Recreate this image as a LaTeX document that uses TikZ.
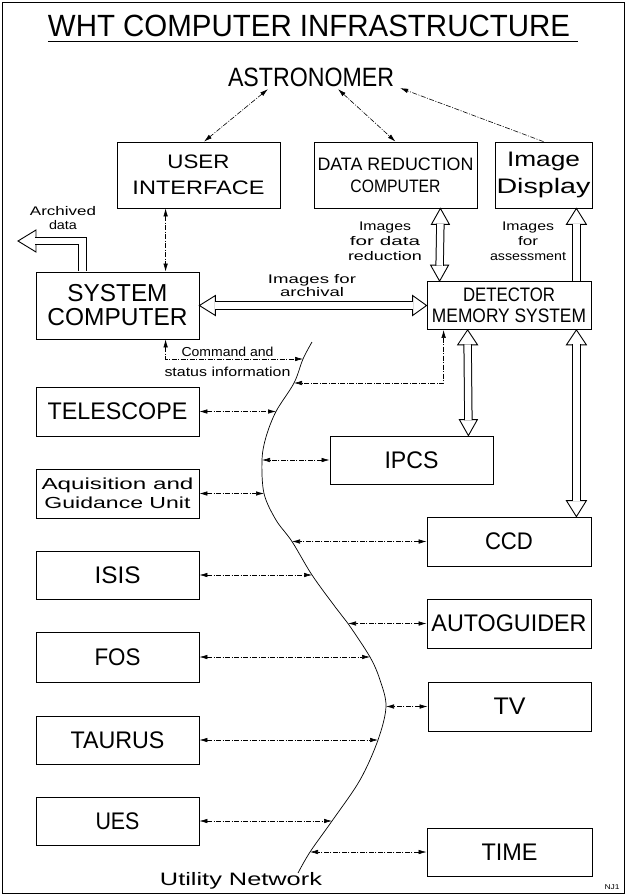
\documentclass[tikz,border=0pt]{standalone}
\usepackage{fontspec}
\setmainfont{Liberation Sans}
\usepackage{graphicx}
\usetikzlibrary{arrows.meta,calc}
\newcommand\fitw[2]{\resizebox{#1}{\height}{#2}}
\newcommand\fs[2]{\fontsize{#1}{#2}\selectfont}
\newcommand\headU[3]{\draw[hhead] (#1) -- ++(-#3,#2) -- ++(2*#3,0) -- cycle;}
\newcommand\headD[3]{\draw[hhead] (#1) -- ++(-#3,-#2) -- ++(2*#3,0) -- cycle;}
\newcommand\headL[3]{\draw[hhead] (#1) -- ++(#2,-#3) -- ++(0,2*#3) -- cycle;}
\newcommand\headR[3]{\draw[hhead] (#1) -- ++(-#2,-#3) -- ++(0,2*#3) -- cycle;}
\newcommand\hshaft[1]{\draw[shaftout] #1; \draw[shaftin] #1;}
\begin{document}
\begin{tikzpicture}[x=1pt,y=-1pt,
  box/.style={draw, line width=0.8pt, inner sep=0pt, align=center},
  lbl/.style={inner sep=0pt, align=center},
  conn/.style={line width=0.6pt, dash pattern=on 5pt off 1.5pt on 1pt off 1.5pt,
     {Latex[length=8pt,width=4.5pt]}-{Latex[length=8pt,width=4.5pt]}},
  connR/.style={line width=0.6pt, dash pattern=on 5pt off 1.5pt on 1pt off 1.5pt,
     -{Latex[length=8pt,width=4.5pt]}},
  shaftout/.style={line width=8.4pt, line join=miter, line cap=butt},
  shaftin/.style={white, line width=6.4pt, line join=miter, line cap=butt},
  hhead/.style={draw, fill=white, line width=0.9pt, line join=miter},
  net/.style={line width=0.7pt}]
\useasboundingbox (0,0) rectangle (627,895);
\draw[line width=0.8pt] (2,2) rectangle (624,893);

% title
\node[lbl, font=\fs{30.7}{36}] (title) at (309,26) {\fitw{522pt}{WHT COMPUTER INFRASTRUCTURE}};
\draw[line width=0.8pt] ([yshift=-4pt]title.south west) -- ([xshift=8pt,yshift=-4pt]title.south east);

\node[lbl, font=\fs{26.5}{32}] (AST) at (311,77.5) {\fitw{166pt}{ASTRONOMER}};

% boxes
\node[box, minimum width=163pt, minimum height=66pt, font=\fs{19.5}{26.5}] (UI) at (198.5,175)
  {\fitw{62pt}{USER}\\\fitw{132pt}{INTERFACE}};
\node[box, minimum width=163pt, minimum height=66pt, font=\fs{18}{22}] (DRC) at (395.5,175)
  {\fitw{156pt}{DATA REDUCTION}\\\fitw{90pt}{COMPUTER}};
\node[box, minimum width=97pt, minimum height=66pt, font=\fs{21}{27}] (ID) at (543.5,175)
  {\fitw{73pt}{Image}\\\fitw{94pt}{Display}};
\node[box, minimum width=163pt, minimum height=67pt, font=\fs{24.5}{24}] (SC) at (117.5,305.5)
  {\fitw{100pt}{SYSTEM}\\\fitw{140pt}{COMPUTER}};
\node[box, minimum width=164pt, minimum height=48pt, font=\fs{19.5}{21}] (DMS) at (509,305.5)
  {\fitw{92pt}{DETECTOR}\\\fitw{154pt}{MEMORY SYSTEM}};

\node[box, minimum width=163pt, minimum height=49pt, font=\fs{24}{28}] (TEL) at (117.5,411.5) {\fitw{140pt}{TELESCOPE}};
\node[box, minimum width=163pt, minimum height=49pt, font=\fs{16}{19}] (AGU) at (117.5,493.5)
  {\fitw{152pt}{Aquisition and}\\\fitw{146pt}{Guidance Unit}};
\node[box, minimum width=163pt, minimum height=48pt, font=\fs{24}{28}] (ISIS) at (117.5,575) {\fitw{46pt}{ISIS}};
\node[box, minimum width=163pt, minimum height=50pt, font=\fs{24}{28}] (FOS) at (117.5,657) {\fitw{46pt}{FOS}};
\node[box, minimum width=163pt, minimum height=48pt, font=\fs{24}{28}] (TAU) at (117.5,740) {\fitw{94pt}{TAURUS}};
\node[box, minimum width=163pt, minimum height=48pt, font=\fs{24}{28}] (UES) at (117.5,821) {\fitw{44pt}{UES}};

\node[box, minimum width=163pt, minimum height=48pt, font=\fs{24}{28}] (IPCS) at (411.5,460) {\fitw{54pt}{IPCS}};
\node[box, minimum width=164pt, minimum height=49pt, font=\fs{24}{28}] (CCD) at (509,541.5) {\fitw{48pt}{CCD}};
\node[box, minimum width=164pt, minimum height=49pt, font=\fs{24}{28}] (AUTO) at (509,623.5) {\fitw{155pt}{AUTOGUIDER}};
\node[box, minimum width=163pt, minimum height=49pt, font=\fs{24}{28}] (TV) at (509.5,706.5) {\fitw{32pt}{TV}};
\node[box, minimum width=165pt, minimum height=48pt, font=\fs{24}{28}] (TIME) at (509.5,852) {\fitw{56pt}{TIME}};

% labels
\node[lbl, font=\fs{12.5}{14}] (archl) at (63,218.5) {\fitw{66pt}{Archived}\\\fitw{28pt}{data}};
\node[lbl, font=\fs{12.5}{15}] (redl) at (385,241) {\fitw{52pt}{Images}\\\fitw{70pt}{for data}\\\fitw{74pt}{reduction}};
\node[lbl, font=\fs{12.5}{15}] (assl) at (528,241) {\fitw{52pt}{Images}\\\fitw{20pt}{for}\\\fitw{76pt}{assessment}};
\node[lbl, font=\fs{12.5}{13}] (arcl) at (312,286) {\fitw{88pt}{Images for}\\\fitw{64pt}{archival}};
\node[lbl, font=\fs{13}{20}] (cmdl) at (227.5,362) {\fitw{92pt}{Command and}\\\fitw{126pt}{status information}};
\node[lbl, font=\fs{18}{20}, anchor=base] (utl) at (241,885) {\fitw{162pt}{Utility Network}};
\node[lbl, font=\fs{7}{8}, anchor=base] (tag) at (612,889) {\fitw{15pt}{NJ1}};

% utility network curve
\coordinate (n0) at (312,342);
\coordinate (ncmd) at (303,359);
\coordinate (ndms) at (294,383);
\coordinate (ntel) at (276,411.5);
\coordinate (nA) at (266,437);
\coordinate (nipcs) at (262,460);
\coordinate (nagu) at (264,493.5);
\coordinate (nB) at (276,520);
\coordinate (nccd) at (292,541.5);
\coordinate (nisis) at (312,575);
\coordinate (nC) at (336,608);
\coordinate (nauto) at (348,623.5);
\coordinate (nfos) at (370,657);
\coordinate (nD) at (380,680);
\coordinate (ntv) at (386,706.5);
\coordinate (ntau) at (378,740);
\coordinate (nE) at (360,780);
\coordinate (nues) at (332,821);
\coordinate (ntime) at (310,852);
\coordinate (nend) at (298,873);
\draw[net] plot[smooth, tension=0.55] coordinates {(n0) (ncmd) (ndms) (ntel) (nA) (nipcs) (nagu) (nB) (nccd) (nisis) (nC) (nauto) (nfos) (nD) (ntv) (ntau) (nE) (nues) (ntime) (nend)};

% thin connectors
\draw[conn] ($(AST.south)+(-43,2)$) -- ($(UI.north)+(5.5,0)$);
\draw[conn] ($(AST.south)+(27,2)$) -- (DRC.north);
\draw[connR] (ID.north) -- ($(AST.south east)+(6,1)$);
\draw[conn] ($(UI.south west)+(49,0)$) -- ($(SC.north west)+(130,0)$);
\draw[conn] ($(SC.south west)+(130,0)$) |- (ncmd);
\draw[conn] ($(DMS.south west)+(17,0)$) |- (ndms);
\draw[conn] (TEL.east) -- (ntel);
\draw[conn] (IPCS.west) -- (nipcs);
\draw[conn] (AGU.east) -- (nagu);
\draw[conn] (CCD.west) -- (nccd);
\draw[conn] (ISIS.east) -- (nisis);
\draw[conn] (AUTO.west) -- (nauto);
\draw[conn] (FOS.east) -- (nfos);
\draw[conn] (TV.west) -- (ntv);
\draw[conn] (TAU.east) -- (ntau);
\draw[conn] (UES.east) -- (nues);
\draw[conn] (TIME.west) -- (ntime);

% hollow arrows
\coordinate (arch) at (18,241);
\coordinate (archS) at ($(SC.north west)+(47,-0.6)$);
\headL{arch}{18}{11}
\hshaft{(archS) |- ($(arch)+(17.4,0)$)}

\headL{SC.east}{16}{10}
\headR{DMS.west}{14}{10}
\hshaft{($(SC.east)+(15.4,0)$) -- ($(DMS.west)+(-13.4,0)$)}

\coordinate (dA) at ($(DRC.south east)+(-37,0)$);
\coordinate (dB) at ($(DMS.north west)+(13,0)$);
\headU{dA}{16}{9}
\headD{dB}{16}{9}
\hshaft{($(dA)+(0,15.4)$) -- ($(dB)+(0,-15.4)$)}

\coordinate (iA) at ($(ID.south east)+(-16,0)$);
\coordinate (iB) at ($(DMS.north east)+(-15,0)$);
\headU{iA}{16}{10}
\hshaft{($(iA)+(0,15.4)$) -- ($(iB)+(0,-0.6)$)}

\coordinate (pA) at ($(DMS.south west)+(41,0)$);
\coordinate (pB) at ($(IPCS.north east)+(-25,0)$);
\headU{pA}{15}{10}
\headD{pB}{16}{9}
\hshaft{($(pA)+(0,14.4)$) -- ($(pB)+(0,-15.4)$)}

\coordinate (cA) at ($(DMS.south east)+(-15,0)$);
\coordinate (cB) at ($(CCD.north east)+(-15,0)$);
\headU{cA}{15}{10}
\headD{cB}{16}{10}
\hshaft{($(cA)+(0,14.4)$) -- ($(cB)+(0,-15.4)$)}
\end{tikzpicture}
\end{document}
